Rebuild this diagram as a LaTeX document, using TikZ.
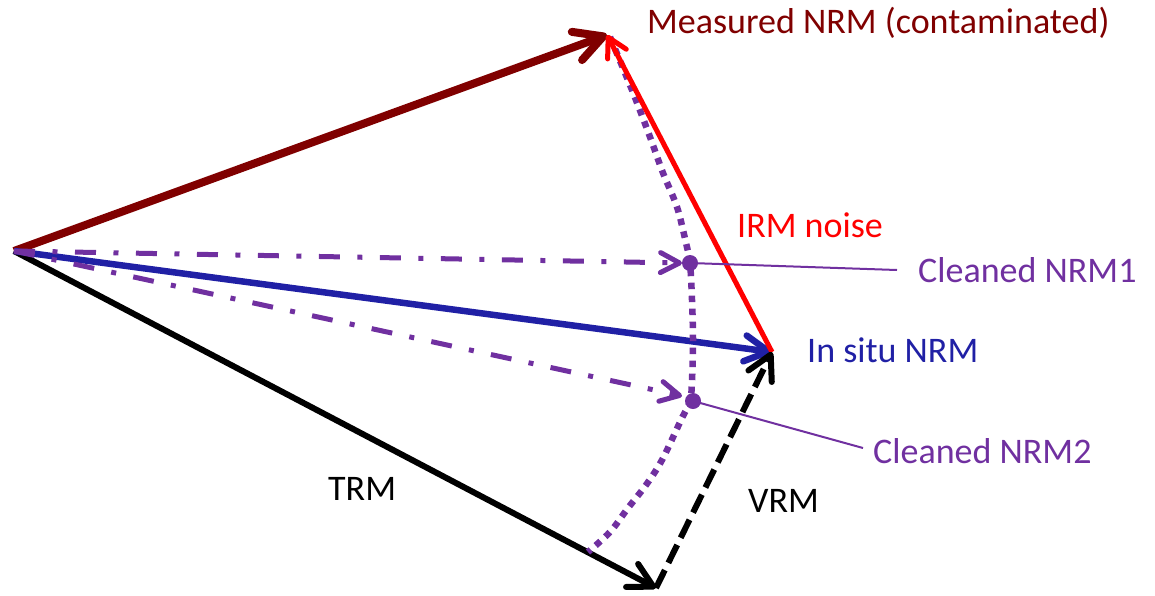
\documentclass[tikz,border=0pt]{standalone}
\usepackage{fontspec}
\setmainfont{Carlito}
\usetikzlibrary{arrows.meta}
\definecolor{nrmred}{RGB}{128,0,0}
\definecolor{irmred}{RGB}{255,0,0}
\definecolor{situblue}{RGB}{32,32,165}
\definecolor{cleanpurple}{RGB}{112,48,160}

\begin{document}
\begin{tikzpicture}[x=1pt,y=-1pt,
  lbl/.style={anchor=base west, inner sep=0pt, font=\fontsize{36}{40}\selectfont},
  vec/.style={line cap=butt},
  barb/.style 2 args={-{Straight Barb[length=#1,width=#2,round]}},
  cleanline/.style={vec, cleanpurple, line width=5pt,
    dash pattern=on 21pt off 17.5pt on 5pt off 17.5pt, barb={19pt}{20pt}},
  arcline/.style={cleanpurple, line width=6.5pt, dash pattern=on 6.5pt off 6.5pt},
  dotmark/.style={circle, fill=cleanpurple, inner sep=0pt, minimum size=16pt},
  leader/.style={cleanpurple, line width=2pt}
]
\useasboundingbox (0,0) rectangle (1155,595);

% vector end points
\coordinate (O) at (14,251);
\coordinate (M) at (607,35);
\coordinate (S) at (772,352);
\coordinate (T) at (656,588);
\coordinate (e1) at (682,263);
\coordinate (e2) at (682,396);
\coordinate (l1) at (897,270);
\coordinate (l2) at (863,448);

% TRM
\draw[vec, black, line width=6pt, barb={24pt}{26pt}] (O) -- (T);
% measured (contaminated) NRM
\draw[vec, nrmred, line width=8pt, barb={28pt}{30pt}] (O) -- (M);
% in situ NRM
\draw[vec, situblue, line width=6.5pt, barb={24pt}{26pt}] (O) -- (S);
% cleaned directions
\draw[cleanline] (O) -- (e1);
\draw[cleanline] (O) -- (e2);

% locus of the cleaned vectors
\draw[arcline] plot[smooth, tension=0.55] coordinates {
  (610,37) (632,90) (650,137) (663,173) (677,207) (686,243) (690,263)
  (692,300) (693,340) (692,380) (690,401) (681,420) (662,460)
  (646,485) (628,508) (610,532) (588,552)};

% IRM noise
\draw[vec, irmred, line width=5pt, barb={19pt}{21pt}] (S) -- (M);
% VRM
\draw[vec, black, line width=6pt, dash pattern=on 20pt off 8pt, barb={24pt}{26pt}] (T) -- (S);

% cleaned NRM markers and leaders
\node[dotmark] (c1) at (690,263) {};
\node[dotmark] (c2) at (693,401) {};
\draw[leader] (c1.center) -- (l1);
\draw[leader] (c2.center) -- (l2);

% labels
\node[lbl, text=nrmred] (tM) at (647,33) {Measured NRM (contaminated)};
\node[lbl, text=irmred] (tI) at (737,237) {IRM noise};
\node[lbl, text=cleanpurple] (tC1) at (918,282) {Cleaned NRM1};
\node[lbl, text=situblue] (tS) at (807,362) {In situ NRM};
\node[lbl, text=cleanpurple] (tC2) at (873,463) {Cleaned NRM2};
\node[lbl, text=black] (tT) at (328,500) {TRM};
\node[lbl, text=black] (tV) at (748,512) {VRM};
\end{tikzpicture}
\end{document}
